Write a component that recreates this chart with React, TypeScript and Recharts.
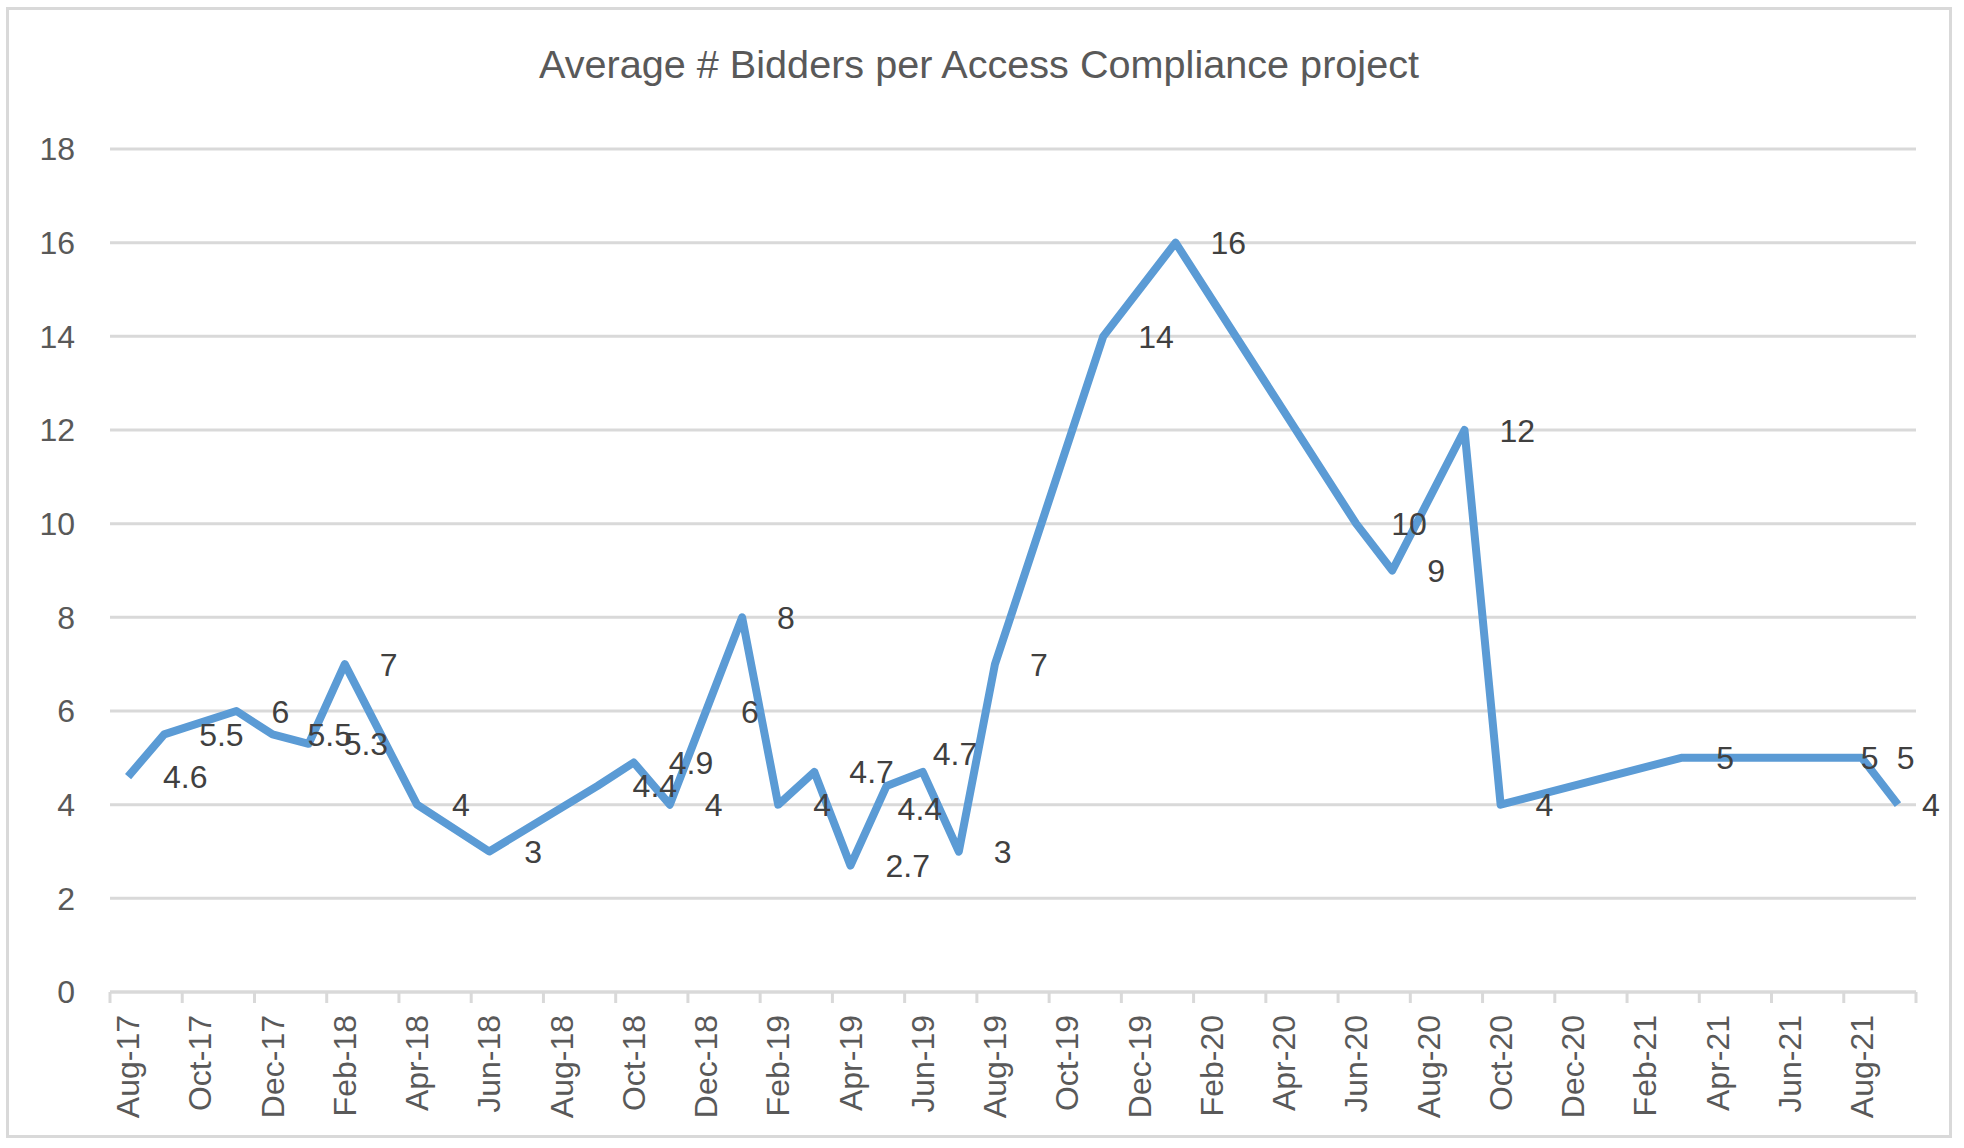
import { LineChart, Line, XAxis, YAxis, CartesianGrid } from 'recharts'

// monthly date axis, Aug-17 .. Sep-21
const MONTHS = [
  'Aug-17', 'Sep-17', 'Oct-17', 'Nov-17', 'Dec-17', 'Jan-18', 'Feb-18', 'Mar-18', 'Apr-18', 'May-18',
  'Jun-18', 'Jul-18', 'Aug-18', 'Sep-18', 'Oct-18', 'Nov-18', 'Dec-18', 'Jan-19', 'Feb-19', 'Mar-19',
  'Apr-19', 'May-19', 'Jun-19', 'Jul-19', 'Aug-19', 'Sep-19', 'Oct-19', 'Nov-19', 'Dec-19', 'Jan-20',
  'Feb-20', 'Mar-20', 'Apr-20', 'May-20', 'Jun-20', 'Jul-20', 'Aug-20', 'Sep-20', 'Oct-20', 'Nov-20',
  'Dec-20', 'Jan-21', 'Feb-21', 'Mar-21', 'Apr-21', 'May-21', 'Jun-21', 'Jul-21', 'Aug-21', 'Sep-21',
]

// months that have a value
const POINT_MONTHS = [
  'Aug-17', 'Sep-17', 'Nov-17', 'Dec-17', 'Jan-18', 'Feb-18', 'Apr-18', 'Jun-18', 'Sep-18', 'Oct-18',
  'Nov-18', 'Dec-18', 'Jan-19', 'Feb-19', 'Mar-19', 'Apr-19', 'May-19', 'Jun-19', 'Jul-19', 'Aug-19',
  'Nov-19', 'Jan-20', 'Jun-20', 'Jul-20', 'Sep-20', 'Oct-20', 'Mar-21', 'Jul-21', 'Aug-21', 'Sep-21',
]
const BIDDERS = [
  4.6, 5.5, 6, 5.5, 5.3, 7, 4, 3, 4.4, 4.9,
  4, 6, 8, 4, 4.7, 2.7, 4.4, 4.7, 3, 7,
  14, 16, 10, 9, 12, 4, 5, 5, 5, 4,
]

const Y_TICKS = [0, 2, 4, 6, 8, 10, 12, 14, 16, 18]

const TITLE = 'Average # Bidders per Access Compliance project'

const data = MONTHS.map((month) => {
  const i = POINT_MONTHS.indexOf(month)
  return { month, bidders: i >= 0 ? BIDDERS[i] : null }
})

const W = 1964
const H = 1148
const PLOT_LEFT = 110
const PLOT_RIGHT = 48
const PLOT_W = W - PLOT_LEFT - PLOT_RIGHT
const SLOT = PLOT_W / MONTHS.length
const HALF = SLOT / 2

const NARROW = "'Liberation Sans Narrow', 'Liberation Sans', Arial, sans-serif"
const SANS = "'Liberation Sans', Arial, sans-serif"
const GRID = '#d9d9d9'

// a few labels were moved by hand in the original sheet
const LABEL_NUDGE: Record<string, [number, number]> = {
  'May-19': [-24, 23],
  'Jun-19': [-25, -18],
  'Sep-21': [-11, 0],
}

function MonthTick(props: any) {
  const { x, y, payload } = props
  const idx = payload.index ?? MONTHS.indexOf(payload.value)
  const left = x - HALF
  const ticks = [left]
  if (idx + 2 >= MONTHS.length) ticks.push(left + (MONTHS.length - idx) * SLOT)
  const top = y + 23
  return (
    <g>
      {ticks.map((tx) => (
        <line key={tx} x1={tx} x2={tx} y1={y} y2={y + 11} stroke={GRID} strokeWidth={3} />
      ))}
      <text
        x={x}
        y={top}
        dy="0.35em"
        transform={`rotate(-90, ${x}, ${top})`}
        textAnchor="end"
        fill="#595959"
        fontSize={32}
        fontFamily={SANS}
      >
        {payload.value}
      </text>
    </g>
  )
}

function PointLabel(props: any) {
  const { x, y, value, index } = props
  if (value == null || y == null) return null
  const [dx, dy] = LABEL_NUDGE[data[index]?.month] ?? [0, 0]
  return (
    <text
      x={x + 35 + dx}
      y={y + dy}
      dy="0.36em"
      textAnchor="start"
      fill="#404040"
      fontSize={32}
      fontFamily={NARROW}
    >
      {value}
    </text>
  )
}

export default function App() {
  return (
    <div style={{ position: 'absolute', left: 0, top: 0, width: W, height: H, background: '#fff' }}>
      <div
        style={{
          position: 'absolute',
          left: 6,
          top: 7,
          width: 1946,
          height: 1131,
          border: `3px solid ${GRID}`,
          boxSizing: 'border-box',
        }}
      />
      <svg style={{ position: 'absolute', left: 0, top: 0 }} width={W} height={120}>
        <text
          x={979}
          y={78}
          textAnchor="middle"
          textLength={880}
          lengthAdjust="spacingAndGlyphs"
          fill="#595959"
          fontSize={38}
          fontFamily={SANS}
        >
          {TITLE}
        </text>
      </svg>
      <div style={{ position: 'absolute', left: 0, top: 0 }}>
        <LineChart
          width={W}
          height={H}
          data={data}
          margin={{ top: 149, right: PLOT_RIGHT, left: 0, bottom: 0 }}
        >
          <CartesianGrid vertical={false} stroke={GRID} strokeWidth={3} />
          <XAxis
            dataKey="month"
            interval={1}
            height={156}
            padding={{ left: HALF, right: HALF }}
            tickLine={false}
            tickSize={0}
            tickMargin={0}
            axisLine={{ stroke: GRID, strokeWidth: 3 }}
            tick={<MonthTick />}
          />
          <YAxis
            width={PLOT_LEFT}
            domain={[0, 18]}
            ticks={Y_TICKS}
            interval={0}
            axisLine={false}
            tickLine={false}
            tickSize={0}
            tickMargin={35}
            tick={{ fill: '#595959', fontSize: 32, fontFamily: NARROW }}
          />
          <Line
            type="linear"
            dataKey="bidders"
            stroke="#5b9bd5"
            strokeWidth={8}
            strokeLinejoin="round"
            dot={false}
            activeDot={false}
            connectNulls
            isAnimationActive={false}
            label={<PointLabel />}
          />
        </LineChart>
      </div>
    </div>
  )
}
